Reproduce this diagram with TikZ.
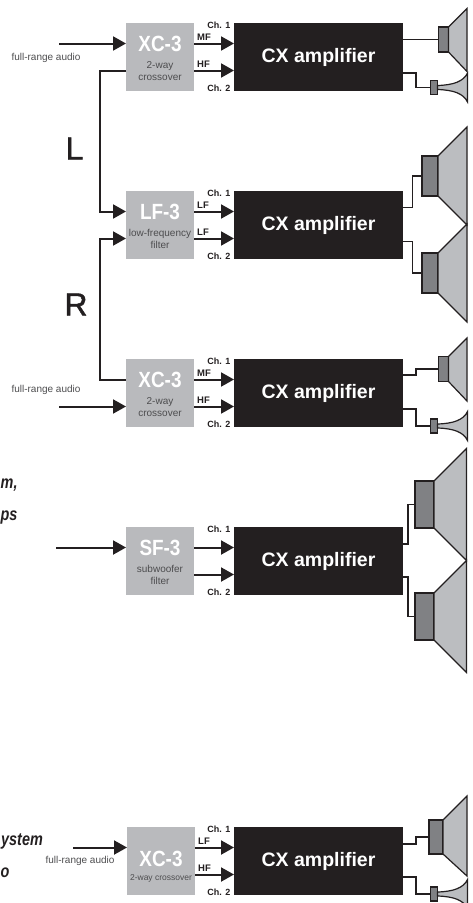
\documentclass[tikz,border=0pt]{standalone}
\usepackage{fontspec}
\setmainfont{Liberation Sans}
\newfontfamily\titlefont{Liberation Sans}[FakeStretch=0.86]
\newfontfamily\sidefont{Liberation Sans}[FakeBold=1.4]
\newfontfamily\notefont{Liberation Sans}[FakeStretch=0.8]
\usetikzlibrary{arrows.meta,calc}
\definecolor{ink}{HTML}{231F20}
\definecolor{filtergray}{HTML}{B9BABD}
\definecolor{conegray}{HTML}{BBBDC0}
\definecolor{magnetgray}{HTML}{808184}
\definecolor{labelgray}{HTML}{4D4D4F}
\tikzset{
  filterbox/.style={fill=filtergray, minimum width=68pt, minimum height=68pt, inner sep=0pt, outer sep=0pt, align=center, text=labelgray, font=\fontsize{10}{12.5}\selectfont},
  ampbox/.style={fill=ink, minimum width=169pt, minimum height=68pt, outer sep=0pt, text=white, font=\fontsize{19.5}{22}\selectfont\bfseries},
  sig/.style={ink, line width=2pt, -{Triangle[length=13pt,width=14pt]}},
  wire/.style={ink, line width=1.7pt},
  magnet/.style={draw=ink, fill=magnetgray, line width=1.5pt, inner sep=0pt, outer sep=0pt},
  cone/.style={draw=ink, fill=conegray, line width=1.2pt, line join=miter},
  chlabel/.style={font=\fontsize{9}{10}\selectfont\bfseries, text=ink, inner sep=0pt},
  bandlabel/.style={font=\fontsize{9.5}{10}\selectfont\bfseries, text=ink, inner sep=0pt, anchor=west},
  srclabel/.style={font=\fontsize{10}{12}\selectfont, text=labelgray, inner sep=0pt},
  sidelabel/.style={font=\fontsize{32}{34}\selectfont\sidefont, text=ink, inner sep=0pt},
  notelabel/.style={font=\fontsize{18}{20}\selectfont\notefont\bfseries\itshape, text=ink, inner sep=0pt, anchor=base west},
}
\newcommand{\filtertitle}[2]{\rule{0pt}{#2pt}{\fontsize{22}{24}\selectfont\titlefont\bfseries\textcolor{white}{#1}}}
\begin{document}
\begin{tikzpicture}[x=1pt, y=-1pt]
  \useasboundingbox (0,0) rectangle (473,903);

  % filter, amplifier and their channel labels
  \foreach \n/\y/\xf/\ttl/\rs/\gp/\sub/\ba/\bb in {a/57/160/XC-3/19/4/{2-way\\crossover}/MF/HF, b/225/160/LF-3/19/4/{low-frequency\\filter}/LF/LF, c/393/160/XC-3/19/4/{2-way\\crossover}/MF/HF, d/561/160/SF-3/19/4/{subwoofer\\filter}//, e/861/161/XC-3/27/2/{\fontsize{8.5}{10}\selectfont 2-way crossover}/LF/HF} {
    \node[filterbox] (f\n) at (\xf,\y) {\filtertitle{\ttl}{\rs}\\[\gp pt]\sub};
    \node[ampbox] (amp\n) at (318.5,\y) {CX amplifier};
    \draw[sig] ($(f\n.east)+(0,-13.5)$) -- ($(amp\n.west)+(0,-13.5)$);
    \draw[sig] ($(f\n.east)+(0,13.5)$) -- ($(amp\n.west)+(0,13.5)$);
    \node[chlabel, anchor=east] (cha\n) at ($(amp\n.north west)+(-3.5,2.5)$) {Ch. 1};
    \node[chlabel, anchor=east] (chb\n) at ($(amp\n.south west)+(-3.5,-2.5)$) {Ch. 2};
    \node[bandlabel] (ba\n) at ($(f\n.east)+(3,-20)$) {\ba};
    \node[bandlabel] (bb\n) at ($(f\n.east)+(3,7)$) {\bb};
  }

  % audio inputs
  \coordinate (ina) at (59,43.5);
  \coordinate (inc) at (59,406.5);
  \coordinate (ind) at (56,547.5);
  \coordinate (ine) at (73,847.5);
  \foreach \n in {a,c,d,e}
    \draw[sig] (in\n) -- (in\n -| f\n.west);
  \node[srclabel] (srca) at (46,57.5) {full-range audio};
  \node[srclabel] (srcc) at (46,389.5) {full-range audio};
  \node[srclabel] (srce) at (80,860.5) {full-range audio};

  % L and R links
  \draw[sig, line join=miter] ($(fa.west)+(0,13.5)$) -| (100,211.5) -- ($(fb.west)+(0,-13.5)$);
  \draw[sig, line join=miter] ($(fc.west)+(0,-13.5)$) -| (100,238.5) -- ($(fb.west)+(0,13.5)$);
  \node[sidelabel] (lname) at (74.5,148.5) {L};
  \node[sidelabel] (rname) at (76,304.5) {R};

  % text left over at the left edge
  \node[notelabel] (nta) at (0.5,488) {m,};
  \node[notelabel] (ntb) at (0.5,520) {ps};
  \node[notelabel] (ntc) at (1,845) {ystem};
  \node[notelabel] (ntd) at (0.5,877) {o};

  % speakers with a cone
  \foreach \m/\x/\y/\w/\h/\d/\sz in {ma/443.5/39.5/10/25/18.5/63, mba/430/176/16/40/29/98, mbb/430/273/16/40/29/98, mc/443.5/369/10/25/18.5/63, mda/424.5/504.5/19/47/32.5/112, mdb/424.5/616.5/19/47/32.5/112, me/436/837/14/34/24/80} {
    \node[magnet, minimum width=\w pt, minimum height=\h pt] (\m) at (\x,\y) {};
    \filldraw[cone] (\m.north east) -- ++(\d,-\d) -- ++(0,\sz) -- (\m.south east) -- cycle;
  }

  % horn tweeters
  \foreach \m/\y in {ha/87.5, hc/426, he/894} {
    \node[magnet, minimum width=7pt, minimum height=14pt] (\m) at (434,\y) {};
    \filldraw[cone] ($(\m.east)+(0,-2)$) .. controls ($(\m.east)+(16,-2.5)$) and ($(\m.east)+(26,-6)$) .. ($(\m.east)+(30,-14.5)$)
      -- ($(\m.east)+(30,14.5)$) .. controls ($(\m.east)+(26,6)$) and ($(\m.east)+(16,2.5)$) .. ($(\m.east)+(0,2)$) -- cycle;
  }

  % amplifier outputs
  \draw[wire] ($(ampa.east)+(0,-17.5)$) -- (ma.west);
  \draw[wire] ($(ampa.east)+(0,16)$) -| (416,87.5) -- (ha.west);
  \draw[wire] ($(ampb.east)+(0,-17.5)$) -| (412.5,176) -- (mba.west);
  \draw[wire] ($(ampb.east)+(0,16.5)$) -| (412.5,273) -- (mbb.west);
  \draw[wire] ($(ampc.east)+(0,-18)$) -| (416,369) -- (mc.west);
  \draw[wire] ($(ampc.east)+(0,16)$) -| (416,426) -- (hc.west);
  \draw[wire] ($(ampd.east)+(0,-17)$) -| (408,504.5) -- (mda.west);
  \draw[wire] ($(ampd.east)+(0,16)$) -| (408,616.5) -- (mdb.west);
  \draw[wire] ($(ampe.east)+(0,-17)$) -| (416,837) -- (me.west);
  \draw[wire] ($(ampe.east)+(0,16)$) -| (416,894) -- (he.west);
\end{tikzpicture}
\end{document}
